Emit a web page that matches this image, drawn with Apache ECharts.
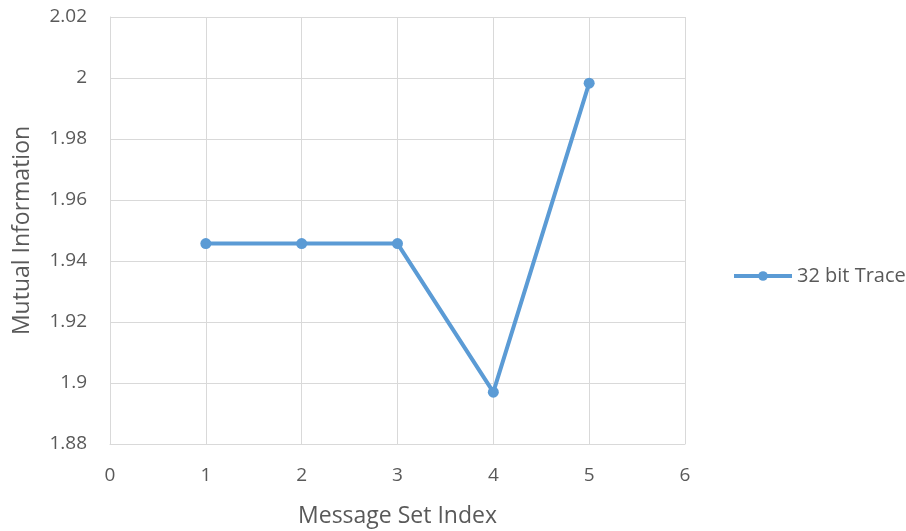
<!DOCTYPE html>
<html>
<head>
<meta charset="utf-8">
<script src="https://cdn.jsdelivr.net/npm/echarts@6/dist/echarts.min.js"></script>
<style>
  html, body { margin: 0; padding: 0; background: #fff; }
  #chart { width: 906px; height: 531px; }
</style>
</head>
<body>
<div id="chart"></div>
<script>
// Message set indices and the mutual information measured for each
const messageSetIndex = [1, 2, 3, 4, 5];
const mutualInformation = [1.9457, 1.9457, 1.9457, 1.8970, 1.9983];
const seriesName = '32 bit Trace';

const xTitle = 'Message Set Index';
const yTitle = 'Mutual Information';

const textColor = '#595959';
const gridColor = '#d9d9d9';
const lineColor = '#5b9bd5';
const fontFamily = '"Open Sans", "Noto Sans", sans-serif';

const chart = echarts.init(document.getElementById('chart'));

chart.setOption({
  animation: false,
  backgroundColor: '#fff',
  grid: { left: 110, right: 221, top: 17, bottom: 87, containLabel: false, outerBoundsMode: 'none' },
  legend: {
    data: [seriesName],
    left: 727,
    top: 261,
    itemWidth: 58,
    itemHeight: 12,
    itemGap: 4,
    lineStyle: { width: 4 },
    textStyle: { color: textColor, fontSize: 20, fontFamily: fontFamily }
  },
  xAxis: {
    type: 'value',
    min: 0,
    max: 6,
    interval: 1,
    name: xTitle,
    nameLocation: 'middle',
    nameGap: 61,
    nameTextStyle: { color: textColor, fontSize: 23, fontFamily: fontFamily },
    axisLine: { show: true, lineStyle: { color: gridColor, width: 1 } },
    axisTick: { show: false },
    axisLabel: { color: textColor, fontSize: 19, margin: 22, fontFamily: fontFamily },
    splitLine: { show: true, lineStyle: { color: gridColor, width: 1 } }
  },
  yAxis: {
    type: 'value',
    min: 1.88,
    max: 2.02,
    interval: 0.02,
    name: yTitle,
    nameLocation: 'middle',
    nameGap: 76,
    nameTextStyle: { color: textColor, fontSize: 23, fontFamily: fontFamily },
    axisLine: { show: true, lineStyle: { color: gridColor, width: 1 } },
    axisTick: { show: false },
    axisLabel: {
      color: textColor, fontSize: 19, margin: 23, fontFamily: fontFamily,
      formatter: v => String(parseFloat(v.toFixed(2)))
    },
    splitLine: { show: true, lineStyle: { color: gridColor, width: 1 } }
  },
  series: [{
    name: seriesName,
    type: 'line',
    data: messageSetIndex.map((x, i) => [x, mutualInformation[i]]),
    symbol: 'circle',
    symbolSize: 11,
    lineStyle: { color: lineColor, width: 4 },
    itemStyle: { color: lineColor }
  }]
});
</script>
</body>
</html>
